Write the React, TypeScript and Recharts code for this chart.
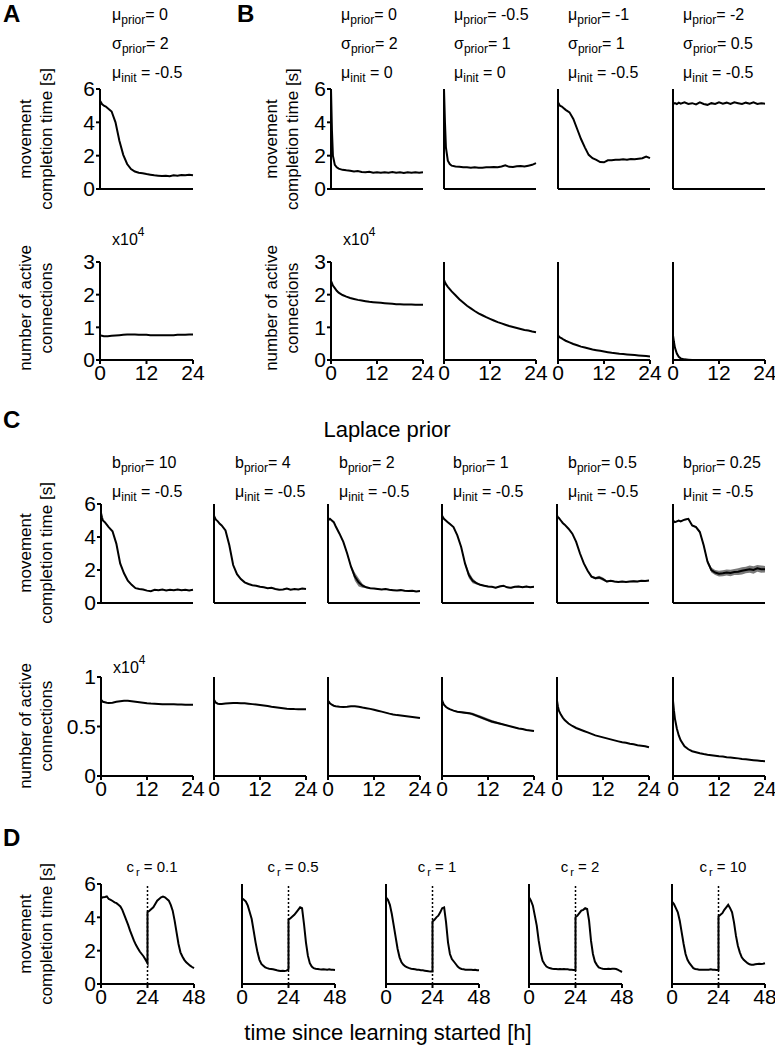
import React from "react";
import { ComposedChart, Line, Area, XAxis, YAxis, ReferenceLine } from "recharts";

const FONT = "'Liberation Sans', Arial, Helvetica, sans-serif";

// time axes [h]
const T24 = [0, 0.25, 0.5, 1, 1.5, 2, 3, 4, 5, 6, 7, 8, 9, 10, 11, 12, 13, 14, 15, 16, 17, 18, 19, 20, 21, 22, 23, 24];
const T48 = [
  0, 1, 2, 3, 4, 5, 6, 7, 8, 9, 10, 11, 12, 13, 14, 15, 16, 17, 18, 19, 20, 21, 22, 23, 24,
  24, 25, 26, 27, 28, 29, 30, 31, 32, 33, 34, 35, 36, 37, 38, 39, 40, 41, 42, 43, 44, 45, 46, 47, 48,
];

const X24_TICKS = [0, 12, 24];
const X48_TICKS = [0, 24, 48];
const MCT_TICKS = [0, 2, 4, 6];
const CONN_TICKS_AB = [0, 1, 2, 3];
const CONN_TICKS_C = [0, 0.5, 1];

// panel A (movement completion time [s], active connections [x10^4])
const aTime = [5.3, 5.2, 5.1, 5.0, 4.95, 4.85, 4.65, 4.0, 2.9, 2.05, 1.5, 1.2, 1.05, 0.98, 0.95, 0.9, 0.86, 0.82, 0.8, 0.78, 0.8, 0.77, 0.82, 0.8, 0.84, 0.82, 0.86, 0.83];
const aConn = [0.76, 0.75, 0.74, 0.73, 0.73, 0.73, 0.74, 0.75, 0.76, 0.77, 0.78, 0.78, 0.78, 0.77, 0.77, 0.77, 0.76, 0.76, 0.76, 0.76, 0.76, 0.76, 0.76, 0.77, 0.77, 0.77, 0.78, 0.78];

// panel B
const bTime1 = [6.0, 3.5, 2.0, 1.45, 1.3, 1.22, 1.15, 1.12, 1.1, 1.05, 1.08, 1.02, 1.0, 1.03, 0.98, 1.0, 0.97, 1.0, 0.98, 1.02, 0.97, 1.0, 0.96, 1.01, 0.98, 1.0, 0.97, 1.0];
const bTime2 = [6.0, 4.0, 2.5, 1.7, 1.5, 1.4, 1.35, 1.33, 1.3, 1.3, 1.28, 1.3, 1.27, 1.28, 1.3, 1.3, 1.32, 1.3, 1.35, 1.42, 1.33, 1.32, 1.36, 1.38, 1.35, 1.4, 1.45, 1.55];
const bTime3 = [5.2, 5.1, 5.0, 4.95, 4.85, 4.75, 4.6, 4.2, 3.6, 3.0, 2.5, 2.05, 1.85, 1.75, 1.62, 1.6, 1.72, 1.72, 1.75, 1.75, 1.78, 1.76, 1.8, 1.78, 1.82, 1.85, 1.95, 1.85];
const bTime4 = [5.1, 5.12, 5.15, 5.1, 5.18, 5.12, 5.2, 5.1, 5.15, 5.08, 5.2, 5.1, 5.05, 5.15, 5.1, 5.2, 5.12, 5.18, 5.1, 5.2, 5.15, 5.1, 5.18, 5.12, 5.2, 5.1, 5.15, 5.12];
const bConn1 = [2.42, 2.35, 2.28, 2.2, 2.12, 2.06, 1.99, 1.94, 1.9, 1.87, 1.84, 1.82, 1.8, 1.78, 1.77, 1.76, 1.75, 1.74, 1.73, 1.72, 1.71, 1.71, 1.7, 1.7, 1.7, 1.69, 1.69, 1.69];
const bConn2 = [2.45, 2.38, 2.32, 2.24, 2.17, 2.1, 1.98, 1.86, 1.76, 1.66, 1.58, 1.5, 1.43, 1.37, 1.31, 1.26, 1.21, 1.16, 1.12, 1.08, 1.04, 1.01, 0.98, 0.95, 0.92, 0.9, 0.87, 0.85];
const bConn3 = [0.75, 0.72, 0.69, 0.66, 0.62, 0.59, 0.54, 0.49, 0.45, 0.41, 0.38, 0.35, 0.32, 0.3, 0.28, 0.26, 0.24, 0.22, 0.21, 0.19, 0.18, 0.17, 0.16, 0.15, 0.14, 0.13, 0.12, 0.11];
const bConn4 = [0.75, 0.55, 0.38, 0.2, 0.1, 0.05, 0.02, 0.01, 0, 0, 0, 0, 0, 0, 0, 0, 0, 0, 0, 0, 0, 0, 0, 0, 0, 0, 0, 0];
const B_MU_PRIOR = ["0", "-0.5", "-1", "-2"];
const B_SIGMA_PRIOR = ["2", "1", "1", "0.5"];
const B_MU_INIT = ["0", "0", "-0.5", "-0.5"];

// panel C (Laplace prior)
const cTime1 = [5.45, 5.2, 5.0, 4.9, 4.75, 4.6, 4.35, 3.6, 2.4, 1.8, 1.35, 1.1, 0.9, 0.85, 0.82, 0.75, 0.72, 0.8, 0.78, 0.82, 0.76, 0.8, 0.78, 0.82, 0.78, 0.8, 0.76, 0.8];
const cTime2 = [5.3, 5.15, 5.05, 4.95, 4.8, 4.7, 4.4, 3.5, 2.3, 1.75, 1.45, 1.25, 1.15, 1.08, 1.05, 0.98, 0.95, 0.9, 0.92, 0.85, 0.8, 0.82, 0.88, 0.8, 0.85, 0.82, 0.88, 0.85];
const cTime3 = [5.1, 5.05, 5.1, 5.0, 4.9, 4.65, 4.2, 3.7, 3.0, 2.2, 1.6, 1.25, 1.05, 0.95, 0.9, 0.88, 0.85, 0.82, 0.85, 0.8, 0.78, 0.76, 0.78, 0.74, 0.72, 0.74, 0.7, 0.72];
const cTime4 = [5.3, 5.2, 5.1, 5.0, 4.9, 4.8, 4.6, 4.1, 3.4, 2.4, 1.7, 1.35, 1.2, 1.1, 1.05, 1.0, 0.98, 0.92, 1.0, 1.05, 0.95, 0.92, 0.98, 1.0, 0.95, 1.0, 0.96, 0.98];
const cTime5 = [5.3, 5.2, 5.15, 5.0, 4.85, 4.75, 4.5, 4.2, 3.7, 3.0, 2.4, 1.95, 1.6, 1.5, 1.55, 1.45, 1.3, 1.35, 1.3, 1.28, 1.3, 1.28, 1.3, 1.32, 1.3, 1.35, 1.33, 1.37];
const cTime6 = [4.9, 4.95, 4.9, 4.95, 5.0, 4.95, 5.05, 5.1, 4.7, 4.6, 4.3, 3.5, 2.5, 2.0, 1.85, 1.78, 1.8, 1.85, 1.82, 1.88, 1.9, 1.95, 2.0, 2.05, 2.0, 2.1, 2.05, 2.05];
const cTimeErr3 = [0.03, 0.03, 0.03, 0.03, 0.03, 0.03, 0.03, 0.04, 0.06, 0.1, 0.25, 0.25, 0.12, 0.05, 0.03, 0.03, 0.03, 0.03, 0.03, 0.03, 0.03, 0.03, 0.03, 0.03, 0.03, 0.03, 0.03, 0.03];
const cTimeErr4 = [0.03, 0.03, 0.03, 0.03, 0.03, 0.03, 0.03, 0.04, 0.06, 0.1, 0.2, 0.15, 0.08, 0.05, 0.04, 0.04, 0.04, 0.04, 0.04, 0.04, 0.04, 0.04, 0.04, 0.04, 0.04, 0.04, 0.04, 0.04];
const cTimeErr5 = [0.03, 0.03, 0.03, 0.03, 0.03, 0.03, 0.03, 0.03, 0.04, 0.05, 0.05, 0.05, 0.06, 0.08, 0.1, 0.1, 0.06, 0.05, 0.04, 0.04, 0.04, 0.04, 0.04, 0.04, 0.04, 0.04, 0.04, 0.04];
const cTimeErr6 = [0.04, 0.04, 0.04, 0.04, 0.04, 0.04, 0.04, 0.05, 0.05, 0.06, 0.08, 0.1, 0.12, 0.15, 0.15, 0.17, 0.18, 0.18, 0.2, 0.18, 0.2, 0.22, 0.2, 0.22, 0.22, 0.2, 0.22, 0.2];
const cConn1 = [0.77, 0.76, 0.75, 0.745, 0.74, 0.738, 0.74, 0.75, 0.755, 0.76, 0.76, 0.755, 0.75, 0.745, 0.74, 0.735, 0.732, 0.73, 0.728, 0.726, 0.725, 0.724, 0.724, 0.722, 0.722, 0.72, 0.72, 0.72];
const cConn2 = [0.77, 0.755, 0.74, 0.73, 0.728, 0.728, 0.732, 0.735, 0.738, 0.738, 0.736, 0.734, 0.73, 0.726, 0.722, 0.718, 0.712, 0.706, 0.7, 0.695, 0.69, 0.685, 0.68, 0.678, 0.676, 0.675, 0.675, 0.675];
const cConn3 = [0.76, 0.75, 0.735, 0.72, 0.71, 0.705, 0.7, 0.698, 0.7, 0.705, 0.705, 0.7, 0.692, 0.685, 0.678, 0.67, 0.66, 0.65, 0.64, 0.63, 0.622, 0.615, 0.61, 0.605, 0.6, 0.595, 0.59, 0.585];
const cConn4 = [0.77, 0.74, 0.72, 0.7, 0.685, 0.675, 0.66, 0.65, 0.645, 0.64, 0.635, 0.625, 0.61, 0.595, 0.58, 0.565, 0.55, 0.54, 0.53, 0.52, 0.51, 0.5, 0.49, 0.48, 0.475, 0.465, 0.46, 0.455];
const cConn5 = [0.76, 0.7, 0.66, 0.62, 0.59, 0.565, 0.53, 0.505, 0.485, 0.47, 0.455, 0.44, 0.425, 0.41, 0.4, 0.39, 0.38, 0.37, 0.36, 0.35, 0.34, 0.335, 0.325, 0.32, 0.31, 0.305, 0.3, 0.29];
const cConn6 = [0.76, 0.66, 0.58, 0.48, 0.41, 0.36, 0.3, 0.27, 0.25, 0.24, 0.23, 0.222, 0.215, 0.21, 0.205, 0.2, 0.196, 0.19, 0.186, 0.182, 0.178, 0.172, 0.168, 0.164, 0.16, 0.156, 0.152, 0.15];
const cConnErr4 = [0.005, 0.005, 0.005, 0.005, 0.005, 0.005, 0.005, 0.006, 0.008, 0.01, 0.012, 0.015, 0.015, 0.015, 0.015, 0.015, 0.015, 0.012, 0.01, 0.008, 0.006, 0.005, 0.005, 0.005, 0.005, 0.005, 0.005, 0.005];
const C_B_PRIOR = ["10", "4", "2", "1", "0.5", "0.25"];

// panel D (re-learning after 24 h)
const dTime1 = [5.15, 5.2, 5.22, 5.25, 5.1, 5.05, 4.98, 4.9, 4.85, 4.75, 4.65, 4.45, 4.15, 3.85, 3.55, 3.2, 2.9, 2.6, 2.35, 2.15, 1.95, 1.8, 1.65, 1.45, 1.25,
  4.3, 4.4, 4.5, 4.6, 4.8, 5.0, 5.1, 5.2, 5.25, 5.2, 5.1, 5.0, 4.75, 4.4, 3.8, 3.1, 2.4, 1.9, 1.65, 1.45, 1.3, 1.2, 1.1, 1.02, 0.95];
const dTime2 = [5.15, 5.05, 4.95, 4.7, 4.3, 3.9, 3.2, 2.5, 1.9, 1.45, 1.2, 1.1, 1.0, 0.95, 0.92, 0.9, 0.88, 0.85, 0.82, 0.8, 0.78, 0.8, 0.78, 0.8, 0.9,
  3.85, 3.95, 4.05, 4.15, 4.3, 4.45, 4.6, 4.55, 3.6, 2.5, 1.7, 1.25, 1.05, 0.95, 0.92, 0.9, 0.88, 0.87, 0.88, 0.87, 0.86, 0.88, 0.86, 0.85, 0.84];
const dTime3 = [5.2, 5.05, 4.75, 4.2, 3.5, 2.8, 2.1, 1.6, 1.3, 1.15, 1.05, 1.0, 0.95, 0.92, 0.9, 0.88, 0.86, 0.85, 0.83, 0.82, 0.8, 0.78, 0.76, 0.75, 0.75,
  3.75, 3.85, 4.0, 4.1, 4.3, 4.55, 4.6, 3.7, 2.5, 1.8, 1.5, 1.35, 1.2, 1.05, 0.95, 0.9, 0.88, 0.86, 0.85, 0.85, 0.86, 0.84, 0.85, 0.83, 0.82];
const dTime4 = [5.2, 5.0, 4.7, 4.1, 3.5, 2.6, 1.9, 1.4, 1.2, 1.05, 0.98, 0.95, 0.92, 0.9, 0.9, 0.88, 0.9, 0.88, 0.9, 0.88, 0.88, 0.86, 0.85, 0.84, 0.84,
  4.0, 4.1, 4.25, 4.4, 4.45, 4.55, 4.5, 3.8, 2.6, 1.8, 1.35, 1.15, 1.0, 0.95, 0.92, 0.9, 0.9, 0.92, 0.9, 0.92, 0.92, 0.9, 0.85, 0.78, 0.72];
const dTime5 = [4.95, 4.8, 4.55, 4.3, 3.8, 3.1, 2.4, 1.8, 1.45, 1.25, 1.1, 0.95, 0.9, 0.88, 0.86, 0.85, 0.86, 0.85, 0.86, 0.85, 0.88, 0.85, 0.86, 0.84, 0.85,
  4.05, 4.15, 4.25, 4.45, 4.6, 4.75, 4.55, 4.3, 3.7, 2.9, 2.3, 1.9, 1.6, 1.45, 1.35, 1.25, 1.18, 1.15, 1.15, 1.18, 1.2, 1.22, 1.2, 1.22, 1.25];
const D_CR = ["0.1", "0.5", "1", "2", "10"];

type MiniProps = {
  x: number;
  y: number;
  w: number;
  h: number;
  t: number[];
  v: number[];
  err?: number[];
  xMax: number;
  xTicks: number[];
  yMax: number;
  yTicks: number[];
  showX?: boolean;
  showY?: boolean;
  vline?: number;
};

// one small panel; x/y is the top-left corner of the plotting area
function Mini({ x, y, w, h, t, v, err, xMax, xTicks, yMax, yTicks, showX, showY, vline }: MiniProps) {
  const ML = 40, MR = 16, MT = 14, MB = 30;
  const data = t.map((tt, i) => ({
    t: tt,
    v: v[i],
    band: err ? [v[i] - err[i], v[i] + err[i]] : null,
  }));
  const axisStyle = { stroke: "#000", strokeWidth: 2 };
  const tickStyle = { fill: "#000", fontSize: 21, fontFamily: FONT };

  return (
    <div style={{ position: "absolute", left: x - ML, top: y - MT }}>
      <ComposedChart
        width={ML + w + MR}
        height={MT + h + MB}
        data={data}
        margin={{ top: MT, right: MR, bottom: 0, left: 0 }}
      >
        <XAxis
          type="number"
          dataKey="t"
          domain={[0, xMax]}
          ticks={xTicks}
          interval={0}
          height={MB}
          axisLine={axisStyle}
          tickLine={axisStyle}
          tickSize={4}
          tickMargin={1}
          tick={showX ? tickStyle : false}
        />
        <YAxis
          type="number"
          domain={[0, yMax]}
          ticks={yTicks}
          interval={0}
          width={ML}
          axisLine={axisStyle}
          tickLine={axisStyle}
          tickSize={4}
          tickMargin={1}
          tick={showY ? tickStyle : false}
        />
        {err && (
          <Area
            dataKey="band"
            type="linear"
            stroke="none"
            fill="#7a7a7a"
            fillOpacity={1}
            isAnimationActive={false}
          />
        )}
        {vline !== undefined && (
          <ReferenceLine x={vline} stroke="#000" strokeWidth={1.5} strokeDasharray="2 2" />
        )}
        <Line
          dataKey="v"
          type="linear"
          stroke="#000"
          strokeWidth={2}
          dot={false}
          isAnimationActive={false}
        />
      </ComposedChart>
    </div>
  );
}

function Param({ x, y, sym, sub, val, gap }: { x: number; y: number; sym: string; sub: string; val: string; gap?: boolean }) {
  return (
    <text x={x} y={y} fontSize={16} fontFamily={FONT} style={{ whiteSpace: "pre" }}>
      {sym}
      <tspan fontSize={12} dy={4}>{sub}</tspan>
      <tspan dy={-4}>{(gap ? " " : "") + "= " + val}</tspan>
    </text>
  );
}

function YLabel({ x, y, lines }: { x: number; y: number; lines: string[] }) {
  return (
    <g>
      {lines.map((s, i) => {
        const xx = x + i * 21;
        return (
          <text
            key={s}
            x={xx}
            y={y}
            transform={`rotate(-90 ${xx} ${y})`}
            textAnchor="middle"
            dominantBaseline="central"
            fontSize={17}
            fontFamily={FONT}
          >
            {s}
          </text>
        );
      })}
    </g>
  );
}

function Exp({ x, y }: { x: number; y: number }) {
  return (
    <text x={x} y={y} fontSize={16} fontFamily={FONT}>
      x10
      <tspan fontSize={12} dy={-9}>4</tspan>
    </text>
  );
}

const B_X = [331, 444, 558, 673];
const C_X = [101, 214, 328, 442, 557, 673];
const C_TEXT_X = [112, 235, 339, 453, 568, 683];
const D_X = [101, 242, 386, 529, 672];

export default function App() {
  const bTimes = [bTime1, bTime2, bTime3, bTime4];
  const bConns = [bConn1, bConn2, bConn3, bConn4];
  const cTimes = [cTime1, cTime2, cTime3, cTime4, cTime5, cTime6];
  const cTimeErrs = [undefined, undefined, cTimeErr3, cTimeErr4, cTimeErr5, cTimeErr6];
  const cConns = [cConn1, cConn2, cConn3, cConn4, cConn5, cConn6];
  const cConnErrs = [undefined, undefined, undefined, cConnErr4, undefined, undefined];
  const dTimes = [dTime1, dTime2, dTime3, dTime4, dTime5];

  return (
    <div style={{ position: "absolute", left: 0, top: 0, width: 775, height: 1046, background: "#fff", fontFamily: FONT }}>
      {/* A */}
      <Mini x={100} y={89} w={93} h={100} t={T24} v={aTime} xMax={24} xTicks={X24_TICKS} yMax={6} yTicks={MCT_TICKS} showY />
      <Mini x={100} y={262} w={93} h={98} t={T24} v={aConn} xMax={24} xTicks={X24_TICKS} yMax={3} yTicks={CONN_TICKS_AB} showY showX />

      {/* B */}
      {B_X.map((bx, i) => (
        <React.Fragment key={"b" + i}>
          <Mini x={bx} y={89} w={92} h={100} t={T24} v={bTimes[i]} xMax={24} xTicks={X24_TICKS} yMax={6} yTicks={MCT_TICKS} showY={i === 0} />
          <Mini x={bx} y={262} w={92} h={98} t={T24} v={bConns[i]} xMax={24} xTicks={X24_TICKS} yMax={3} yTicks={CONN_TICKS_AB} showY={i === 0} showX />
        </React.Fragment>
      ))}

      {/* C */}
      {C_X.map((cx, i) => (
        <React.Fragment key={"c" + i}>
          <Mini x={cx} y={504} w={92} h={99} t={T24} v={cTimes[i]} err={cTimeErrs[i]} xMax={24} xTicks={X24_TICKS} yMax={6} yTicks={MCT_TICKS} showY={i === 0} />
          <Mini x={cx} y={677} w={92} h={99} t={T24} v={cConns[i]} err={cConnErrs[i]} xMax={24} xTicks={X24_TICKS} yMax={1} yTicks={CONN_TICKS_C} showY={i === 0} showX />
        </React.Fragment>
      ))}

      {/* D */}
      {D_X.map((dx, i) => (
        <Mini key={"d" + i} x={dx} y={884} w={93} h={100} t={T48} v={dTimes[i]} xMax={48} xTicks={X48_TICKS} yMax={6} yTicks={MCT_TICKS} showY={i === 0} showX vline={24} />
      ))}

      <svg width={775} height={1046} style={{ position: "absolute", left: 0, top: 0, pointerEvents: "none" }}>
        <g fontFamily={FONT} fontWeight="bold" fontSize={24}>
          <text x={3} y={22}>A</text>
          <text x={237} y={22}>B</text>
          <text x={3} y={428}>C</text>
          <text x={3} y={846}>D</text>
        </g>

        <Param x={112} y={20} sym="μ" sub="prior" val="0" />
        <Param x={112} y={49} sym="σ" sub="prior" val="2" />
        <Param x={112} y={78} sym="μ" sub="init" val="-0.5" gap />
        {B_X.map((bx, i) => (
          <g key={"bp" + i}>
            <Param x={bx + 10} y={20} sym="μ" sub="prior" val={B_MU_PRIOR[i]} />
            <Param x={bx + 10} y={49} sym="σ" sub="prior" val={B_SIGMA_PRIOR[i]} />
            <Param x={bx + 10} y={78} sym="μ" sub="init" val={B_MU_INIT[i]} gap />
          </g>
        ))}

        <YLabel x={25} y={139} lines={["movement", "completion time [s]"]} />
        <YLabel x={271} y={139} lines={["movement", "completion time [s]"]} />
        <YLabel x={25} y={308} lines={["number of active", "connections"]} />
        <YLabel x={271} y={308} lines={["number of active", "connections"]} />
        <Exp x={112} y={245} />
        <Exp x={343} y={245} />

        <text x={387} y={437} textAnchor="middle" fontSize={22} fontFamily={FONT}>Laplace prior</text>
        {C_TEXT_X.map((tx, i) => (
          <g key={"cp" + i}>
            <Param x={tx} y={468} sym="b" sub="prior" val={C_B_PRIOR[i]} />
            <Param x={tx} y={497} sym="μ" sub="init" val="-0.5" gap />
          </g>
        ))}
        <YLabel x={25} y={553} lines={["movement", "completion time [s]"]} />
        <YLabel x={25} y={726} lines={["number of active", "connections"]} />
        <Exp x={113} y={673} />

        {D_X.map((dx, i) => (
          <text key={"dt" + i} x={dx + 51} y={872} textAnchor="middle" fontSize={15} fontFamily={FONT} style={{ whiteSpace: "pre" }}>
            c<tspan fontSize={11} dx={2} dy={4}>r</tspan>
            <tspan dy={-4}>{" = " + D_CR[i]}</tspan>
          </text>
        ))}
        <YLabel x={25} y={934} lines={["movement", "completion time [s]"]} />
        <text x={388} y={1040} textAnchor="middle" fontSize={22} fontFamily={FONT}>time since learning started [h]</text>
      </svg>
    </div>
  );
}
